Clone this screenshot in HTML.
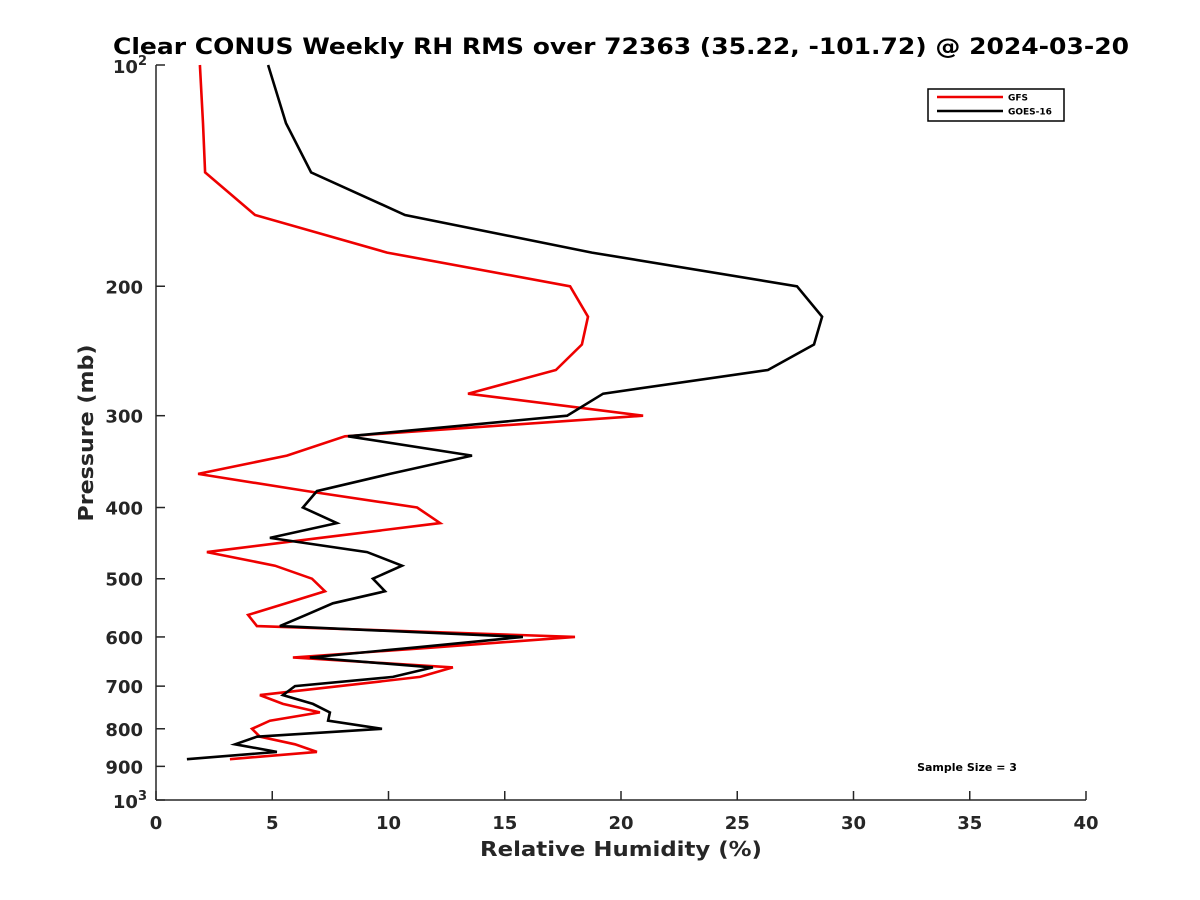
<!DOCTYPE html>
<html><head><meta charset="utf-8"><style>
html,body{margin:0;padding:0;background:#fff;}
svg{display:block;font-family:"DejaVu Sans","Liberation Sans",sans-serif;}
</style></head><body>
<svg id="chart" width="1200" height="900" viewBox="0 0 1200 900">
<rect width="1200" height="900" fill="#fff"/>
<text x="621" y="54" text-anchor="middle" font-size="22" font-weight="bold" textLength="1016" lengthAdjust="spacingAndGlyphs">Clear CONUS Weekly RH RMS over 72363 (35.22, -101.72) @ 2024-03-20</text>
<g id="axes"></g>
<g id="series"></g>
<text x="621" y="856" text-anchor="middle" font-size="20" font-weight="bold" fill="#262626" textLength="282" lengthAdjust="spacingAndGlyphs">Relative Humidity (%)</text>
<text x="0" y="0" transform="translate(93,433) rotate(-90)" text-anchor="middle" font-size="20" font-weight="bold" fill="#262626" textLength="177" lengthAdjust="spacingAndGlyphs">Pressure (mb)</text>
<g>
<rect x="928" y="89" width="136" height="32" fill="#fff" stroke="#000" stroke-width="1.5"/>
<g>
<line x1="937" y1="97" x2="1003" y2="97" stroke="#e00" stroke-width="2.5"/>
<text x="1008" y="100.5" font-size="9" font-weight="bold">GFS</text></g>
<g>
<line x1="937" y1="111" x2="1003" y2="111" stroke="#000" stroke-width="2.5"/>
<text x="1008" y="114.5" font-size="9" font-weight="bold">GOES-16</text></g>
</g>
<text x="967" y="771" text-anchor="middle" font-size="11" font-weight="bold">Sample Size = 3</text>
</svg>
<script>
const pressureLevels=[100,120,140,160,180,200,220,240,260,280,300,320,340,360,380,400,420,440,460,480,500,520,540,560,580,600,620,640,660,680,700,720,740,760,780,800,820,840,860,880];
const gfsRH=[1.89,2.02,2.11,4.26,9.94,17.81,18.58,18.32,17.20,13.42,20.95,8.13,5.63,1.81,6.5,11.23,12.22,7.05,2.19,5.12,6.71,7.27,5.6,3.96,4.34,18.02,11.96,5.89,12.77,11.35,7.91,4.47,5.46,7.05,4.9,4.13,4.47,5.98,6.92,3.18];
const goesRH=[4.82,5.59,6.67,10.71,18.75,27.57,28.65,28.30,26.32,19.23,17.68,8.26,13.59,10.06,6.92,6.32,7.78,4.90,9.08,10.58,9.33,9.85,7.61,6.45,5.33,15.78,11.18,6.62,11.91,10.19,5.98,5.46,6.75,7.48,7.40,9.72,4.34,3.40,5.20,1.33];
const xTicks=[0,5,10,15,20,25,30,35,40];
const yTicks=[200,300,400,500,600,700,800,900];

const NS="http://www.w3.org/2000/svg";
const X0=156,X1=1086,Y0=65,Y1=800,XMAX=40;
function xs(v){return X0+(v/XMAX)*(X1-X0);}
function ys(p){return Y0+(Math.log10(p)-2)*(Y1-Y0);}
function mk(tag,attrs,parent){const e=document.createElementNS(NS,tag);for(const k in attrs)e.setAttribute(k,attrs[k]);parent.appendChild(e);return e;}
const axes=document.getElementById('axes');
const ser=document.getElementById('series');

const yl=mk('line',{x1:X0,y1:Y0,x2:X0,y2:Y1,stroke:'#262626','stroke-width':1.5},axes);


const xl=mk('line',{x1:X0,y1:Y1,x2:X1,y2:Y1,stroke:'#262626','stroke-width':1.5},axes);



xTicks.forEach(v=>{
  const x=xs(v);
  const t=mk('line',{x1:x,y1:Y1,x2:x,y2:Y1-9,stroke:'#262626','stroke-width':1.5},axes);
  
  
  const l=mk('text',{x:x,y:Y1+29,'text-anchor':'middle','font-size':18,'font-weight':'bold',fill:'#262626'},axes);
  l.textContent=String(v);
  
  
});
[100,1000].concat(yTicks).forEach(p=>{
  const y=ys(p);
  const t=mk('line',{x1:X0,y1:y,x2:X0+9,y2:y,stroke:'#262626','stroke-width':1.5},axes);
  
  
});
yTicks.forEach(p=>{
  const l=mk('text',{x:143,y:ys(p)+7,'text-anchor':'end','font-size':18,'font-weight':'bold',fill:'#262626'},axes);
  l.textContent=String(p);
  
  
});
[[100,'2'],[1000,'3']].forEach(([p,e])=>{
  const l=mk('text',{x:147,y:ys(p)+8,'text-anchor':'end','font-size':18,'font-weight':'bold',fill:'#262626'},axes);
  l.innerHTML='10<tspan dy="-8" font-size="13">'+e+'</tspan>';
  
  
});

function draw(vals,color,name){
  const pts=vals.map((v,i)=>xs(v).toFixed(1)+','+ys(pressureLevels[i]).toFixed(1)).join(' ');
  const pl=mk('polyline',{points:pts,fill:'none',stroke:color,'stroke-width':2.6,'stroke-linejoin':'miter'},ser);
  
  
}
draw(gfsRH,'#e00','gfs-line');
draw(goesRH,'#000','goes16-line');
</script>
</body></html>
